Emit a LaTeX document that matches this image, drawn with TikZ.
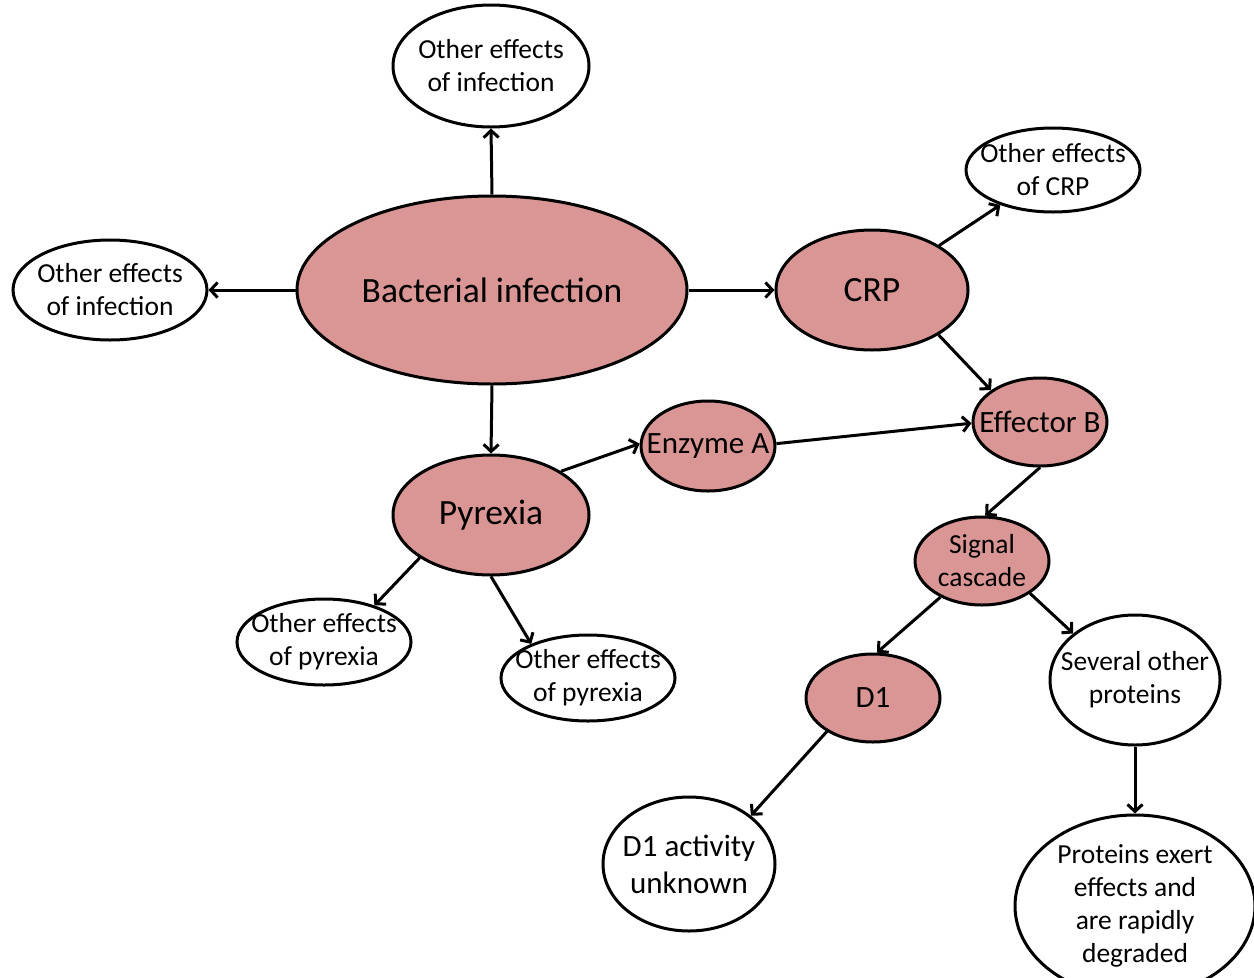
\documentclass[tikz,border=0pt]{standalone}
\usepackage{fontspec}
\setmainfont{Carlito}
\usetikzlibrary{shapes.geometric,arrows.meta}
\definecolor{pinkfill}{HTML}{D99694}
\tikzset{
  bub/.style={ellipse, draw=black, line width=3pt, inner xsep=-14pt, inner ysep=-8pt, align=center, fill=white},
  pk/.style={bub, fill=pinkfill},
  fs/.style={font=\fontsize{27.5}{33}\selectfont},
  fm/.style={font=\fontsize{31}{37}\selectfont},
  fl/.style={font=\fontsize{35.5}{42}\selectfont},
  arr/.style={line width=3pt, -{Straight Barb[length=7pt,width=15pt]}},
}
\begin{document}
\begin{tikzpicture}[x=1pt,y=-1pt]
\useasboundingbox (0,0) rectangle (1254,978);
\node[pk,fl,minimum width=390,minimum height=188] (bact) at (492,290) {Bacterial infection};
\node[bub,fs,minimum width=196,minimum height=122] (otop) at (491,66) {Other effects\\of infection};
\node[bub,fs,minimum width=194,minimum height=100] (oleft) at (110,290) {Other effects\\of infection};
\node[pk,fl,minimum width=192,minimum height=120] (crp) at (872,290) {CRP};
\node[bub,fs,minimum width=174,minimum height=84] (ocrp) at (1053,170) {Other effects\\of CRP};
\node[pk,fm,minimum width=134,minimum height=88] (effb) at (1040,422) {Effector B};
\node[pk,fm,minimum width=134,minimum height=90] (enza) at (708,446) {Enzyme A};
\node[pk,fl,minimum width=196,minimum height=120] (pyr) at (491,515) {Pyrexia};
\node[bub,fs,minimum width=174,minimum height=86] (pyrl) at (324,642) {Other effects\\of pyrexia};
\node[bub,fs,minimum width=174,minimum height=86] (pyrr) at (588,678) {Other effects\\of pyrexia};
\node[pk,fs,minimum width=134,minimum height=88] (sig) at (982,561) {Signal\\cascade};
\node[bub,fs,minimum width=170,minimum height=130] (sev) at (1135,680) {Several other\\proteins};
\node[pk,fm,minimum width=134,minimum height=88] (d1) at (873,698) {D1};
\node[bub,fm,font=\fontsize{31}{37}\selectfont,minimum width=172,minimum height=134] (d1act) at (689,864) {D1 activity\\unknown};
\node[bub,fs,minimum width=240,minimum height=182] (prot) at (1135,906) {Proteins exert\\effects and\\are rapidly\\degraded};

\draw[arr] (bact.north) -- (otop.south);
\draw[arr] (bact.west) -- (oleft.east);
\draw[arr] (bact.east) -- (crp.west);
\draw[arr] (bact.south) -- (pyr.north);
\draw[arr] (crp) -- (ocrp);
\draw[arr] (crp.-34) -- (effb.147);
\draw[arr] (pyr.32) -- (enza.178);
\draw[arr] (enza.2) -- (effb.181);
\draw[arr] (effb.south) -- (sig.86);
\draw[arr] (pyr.211) -- (pyrl.36);
\draw[arr] (pyr.south) -- (pyrr.149);
\draw[arr] (sig.221) -- (d1.85);
\draw[arr] (sig.-34) -- (sev.143);
\draw[arr] (d1.216) -- (d1act.38);
\draw[arr] (sev.south) -- (prot.north);
\end{tikzpicture}
\end{document}
